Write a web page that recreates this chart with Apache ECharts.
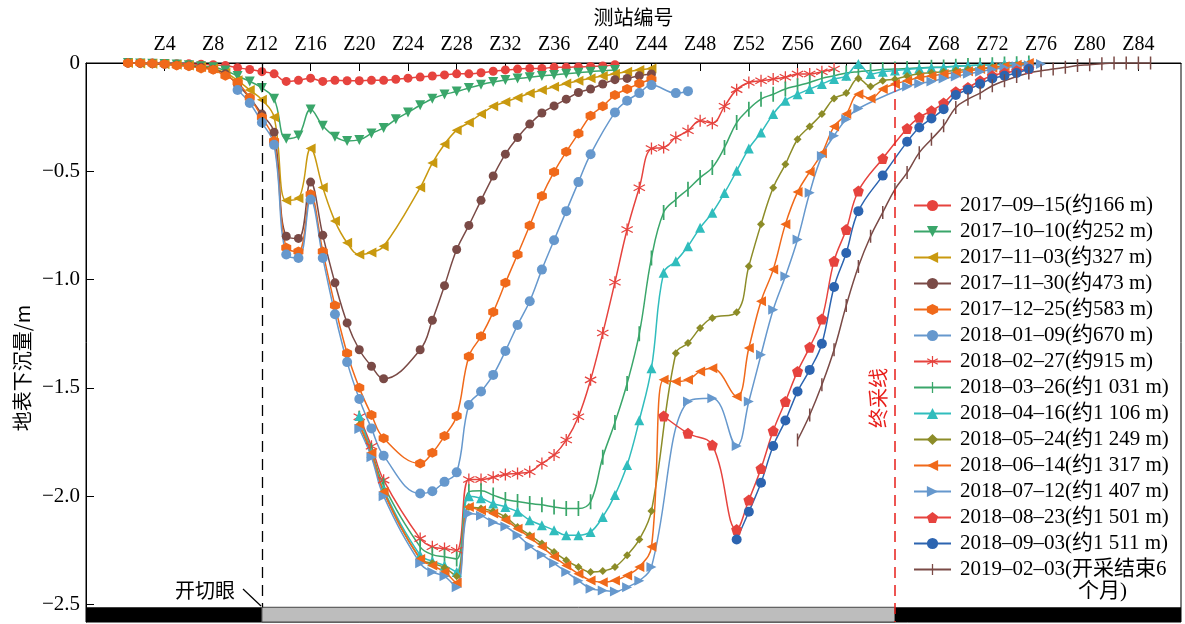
<!DOCTYPE html>
<html>
<head>
<meta charset="utf-8">
<script src="https://cdn.jsdelivr.net/npm/echarts@6/dist/echarts.min.js"></script>
<style>
html, body { margin: 0; padding: 0; background: #fff; }
#chart { width: 1185px; height: 624px; }
</style>
</head>
<body>
<div id="chart"></div>
<script>
// x 值 = 测站序号 (Z1 -> 1), y 值 = 地表下沉量 (m); null = 该测站无数据
var xTicks = [4, 8, 12, 16, 20, 24, 28, 32, 36, 40, 44, 48, 52, 56, 60, 64, 68, 72, 76, 80, 84];
var yTicks = [0, -0.5, -1, -1.5, -2, -2.5];

var start170915 = 1;
var v170915 = [0, 0, 0, -0.002, -0.003, -0.004, -0.006, -0.008, -0.012, -0.022, -0.03, -0.04, -0.05, -0.085, -0.08, -0.07, -0.085, -0.08, -0.082, -0.082,
  -0.08, -0.08, -0.075, -0.07, -0.065, -0.06, -0.055, -0.05, -0.05, -0.045, -0.038, -0.032, -0.028, -0.025, -0.025, -0.02, -0.02, -0.018, -0.016, -0.014, -0.008];

var start171010 = 1;
var v171010 = [0, -0.002, -0.003, -0.005, -0.007, -0.01, -0.015, -0.02, -0.035, -0.06, -0.085, -0.115, -0.165, -0.35, -0.335, -0.215, -0.29, -0.34, -0.36, -0.355,
  -0.325, -0.3, -0.26, -0.228, -0.195, -0.165, -0.145, -0.132, -0.115, -0.1, -0.088, -0.078, -0.072, -0.066, -0.06, -0.055, -0.05, -0.045, -0.04, -0.036, -0.032];

var start171103 = 1;
var v171103 = [0, -0.002, -0.004, -0.006, -0.008, -0.012, -0.018, -0.025, -0.045, -0.08, -0.125, -0.17, -0.25, -0.635, -0.625, -0.395, -0.575, -0.73, -0.83, -0.884,
  -0.875, -0.846, null, null, -0.575, -0.462, -0.375, -0.31, -0.275, -0.235, -0.2, -0.18, -0.16, -0.14, -0.125, -0.11, -0.095, -0.082, -0.07, -0.06,
  -0.05, -0.04, -0.032, -0.025];

var start171130 = 1;
var v171130 = [0, -0.002, -0.004, -0.006, -0.01, -0.014, -0.02, -0.03, -0.05, -0.1, -0.16, -0.236, -0.32, -0.8, -0.81, -0.55, -0.795, -1.015, -1.2, -1.324,
  -1.4, -1.458, null, null, -1.324, -1.188, -1.028, -0.861, -0.75, -0.634, -0.522, -0.421, -0.344, -0.282, -0.231, -0.198, -0.167, -0.136, -0.12, -0.097,
  -0.077, -0.071, -0.059, -0.051];

var start171225 = 1;
var v171225 = [0, 0, -0.002, -0.005, -0.012, -0.015, -0.025, -0.031, -0.059, -0.09, -0.16, -0.25, -0.36, -0.853, -0.87, -0.606, -0.87, -1.12, -1.34, -1.5,
  -1.625, -1.733, null, null, -1.849, -1.8, -1.722, -1.63, -1.355, -1.262, -1.15, -1.015, -0.884, -0.75, -0.614, -0.503, -0.41, -0.326, -0.244, -0.2,
  -0.148, -0.12, -0.095, -0.075];

var start180109 = 10;
var v180109 = [-0.125, -0.185, -0.275, -0.378, -0.884, -0.9, -0.63, -0.9, -1.16, -1.381, -1.551, -1.687, -1.813, null, null, -1.988, -1.977, -1.934, -1.89, -1.579,
  -1.517, -1.44, -1.33, -1.21, -1.1, -0.954, -0.818, -0.684, -0.55, -0.421, null, -0.228, -0.174, -0.139, -0.102, null, -0.139, -0.13];

var start180227 = 20;
var v180227 = [-1.633, -1.77, -1.926, null, null, -2.196, -2.234, -2.242, -2.25, -1.923, -1.923, -1.913, -1.9, -1.895, -1.887, -1.849, -1.81, -1.741, -1.633, -1.463,
  -1.247, -1.012, -0.769, -0.576, -0.395, -0.39, -0.344, -0.313, -0.267, -0.278, -0.2, -0.123, -0.09, -0.082, -0.074, -0.066, -0.051, -0.051, -0.04, -0.028];

var start180326 = 20;
var v180326 = [-1.64, -1.79, -1.95, null, null, -2.234, -2.27, -2.28, -2.29, -1.98, -1.975, -1.995, -2.015, -2.025, -2.034, -2.04, -2.05, -2.057, -2.057, -2.026,
  -1.82, -1.66, -1.48, -1.25, -0.9, -0.69, -0.63, -0.583, -0.529, -0.483, -0.39, -0.275, -0.213, -0.167, -0.144, -0.12, -0.105, -0.09, -0.071, -0.059,
  -0.046, -0.04, -0.035, -0.03, -0.028, -0.025, -0.022, -0.02, -0.018, -0.015, -0.012, -0.01, -0.008, -0.005, -0.003, 0];

var start180416 = 20;
var v180416 = [-1.63, -1.8, -1.97, null, null, -2.273, -2.3, -2.32, -2.35, -2.0, -2.01, -2.034, -2.05, -2.072, -2.111, -2.134, -2.157, -2.18, -2.18, -2.165,
  -2.096, -1.995, -1.856, -1.65, -1.409, -0.969, -0.915, -0.846, -0.761, -0.691, -0.6, -0.498, -0.395, -0.321, -0.236, -0.174, -0.144, -0.12, -0.097, -0.074,
  -0.059, -0.005, -0.051, -0.04, -0.035, -0.03, -0.025, -0.022, -0.02, -0.015, -0.012, -0.01, -0.008, -0.005, -0.003, 0];

var start180524 = 20;
var v180524 = [-1.67, -1.81, -1.98, null, null, -2.29, -2.31, -2.33, -2.37, -2.05, -2.057, -2.07, -2.096, -2.142, -2.18, -2.219, -2.258, -2.296, -2.327, -2.35,
  -2.346, -2.327, -2.273, -2.2, -2.068, null, -1.34, -1.293, -1.224, -1.177, null, -1.151, -0.938, -0.745, -0.576, -0.468, -0.352, -0.293, -0.236, -0.164,
  -0.139, -0.071, -0.108, -0.082, -0.075, -0.06, -0.05, -0.045, -0.04, -0.035, -0.03, -0.025, -0.02, -0.015, -0.01, -0.005];

var start180614 = 20;
var v180614 = [-1.67, -1.8, -1.98, null, null, -2.29, -2.32, -2.35, -2.4, -2.05, -2.065, -2.08, -2.11, -2.15, -2.19, -2.234, -2.28, -2.32, -2.358, -2.389,
  -2.397, -2.389, -2.366, -2.327, -2.234, -1.463, -1.471, -1.463, -1.424, -1.409, null, -1.54, -1.316, -1.1, -0.954, -0.745, -0.596, -0.503, -0.417, -0.293,
  -0.236, -0.144, -0.164, -0.12, -0.097, -0.082, -0.067, -0.06, -0.051, -0.045, -0.038, -0.028, -0.022, -0.015, -0.008, 0];

var start180712 = 20;
var v180712 = [-1.69, -1.82, -2.0, null, null, -2.31, -2.35, -2.37, -2.42, -2.08, -2.09, -2.12, -2.14, -2.18, -2.23, -2.27, -2.31, -2.35, -2.39, -2.427,
  -2.435, -2.44, -2.42, -2.39, -2.327, null, null, -1.563, null, -1.548, null, -1.768, -1.563, -1.347, -1.139, -0.985, -0.815, -0.599, -0.429, -0.336,
  -0.26, -0.21, null, null, null, -0.108, -0.095, -0.085, -0.072, -0.062, -0.05, -0.04, -0.03, -0.022, -0.015, -0.01, -0.005];

var start180823 = 45;
var v180823 = [-1.63, null, -1.71, null, -1.764, null, -2.154, -2.018, -1.872, -1.698, -1.563, -1.424, -1.312, -1.182, -0.915, -0.769, -0.591, null, -0.441, null,
  -0.302, -0.251, -0.221, -0.185, -0.133, -0.113, -0.082, -0.059, -0.046, -0.036, -0.025];

var start180903 = 51;
var v180903 = [-2.2, -2.072, -1.938, -1.768, -1.651, -1.517, -1.417, -1.296, -1.034, -0.877, -0.684, null, -0.52, null, -0.364, -0.298, -0.256, -0.213, -0.148, -0.123,
  -0.097, -0.071, -0.059, -0.046, -0.028];

var start190203 = 56;
var v190203 = [-1.741, -1.625, -1.486, -1.324, -1.12, -0.94, -0.8, -0.69, -0.583, -0.506, -0.414, -0.352, -0.29, -0.205, -0.167, -0.139, -0.105, -0.082, -0.062, -0.046,
  -0.036, -0.028, -0.02, -0.012, -0.008, -0.003, 0, 0, 0, 0];

// 标志形状
var HEX = 'path://M0,-10L8.66,-5L8.66,5L0,10L-8.66,5L-8.66,-5Z';
var PENT = 'path://M0,-10L9.51,-3.09L5.88,8.09L-5.88,8.09L-9.51,-3.09Z';
var STAR = 'path://M-1,-10L1,-10L1,10L-1,10ZM8.16,5.87L-9.16,-4.13L-8.16,-5.87L9.16,4.13ZM9.16,-4.13L-8.16,5.87L-9.16,4.13L8.16,-5.87Z';
// 竖线标志, 横向的零面积线段只用来撑开外框
var VBAR = 'path://M-0.8,-7L0.8,-7L0.8,7L-0.8,7ZM-7,0L7,0';

var RED = '#e6433e', GREEN = '#3aa66a', GOLD = '#c9990f', BROWN = '#7a4a46', ORANGE = '#f0691a',
    LBLUE = '#6698cd', TEAL = '#30bdbd', OLIVE = '#8c8c28', DBLUE = '#2c64b0';

var defs = [
  ['2017–09–15(约166 m)', start170915, v170915, RED, 'circle', 9, 0],
  ['2017–10–10(约252 m)', start171010, v171010, GREEN, 'triangle', 10, 180],
  ['2017–11–03(约327 m)', start171103, v171103, GOLD, 'triangle', 10, 90],
  ['2017–11–30(约473 m)', start171130, v171130, BROWN, 'circle', 9, 0],
  ['2017–12–25(约583 m)', start171225, v171225, ORANGE, HEX, 10, 0],
  ['2018–01–09(约670 m)', start180109, v180109, LBLUE, 'circle', 10, 0],
  ['2018–02–27(约915 m)', start180227, v180227, RED, STAR, 12, 0],
  ['2018–03–26(约1 031 m)', start180326, v180326, GREEN, VBAR, 15, 0],
  ['2018–04–16(约1 106 m)', start180416, v180416, TEAL, 'triangle', 10, 0],
  ['2018–05–24(约1 249 m)', start180524, v180524, OLIVE, 'diamond', 8, 0],
  ['2018–06–14(约1 317 m)', start180614, v180614, ORANGE, 'triangle', 10, 90],
  ['2018–07–12(约1 407 m)', start180712, v180712, LBLUE, 'triangle', 10, -90],
  ['2018–08–23(约1 501 m)', start180823, v180823, RED, PENT, 11, 0],
  ['2018–09–03(约1 511 m)', start180903, v180903, DBLUE, 'circle', 10, 0],
  ['2019–02–03(开采结束6个月)', start190203, v190203, BROWN, VBAR, 13, 0]
];

function toPoints(start, vals) {
  return vals.map(function (v, i) { return [start + i, v]; });
}

var XMIN = -2.45, XMAX = 87.5, YMIN = -2.581, BAR_TOP = -2.513;

var series = defs.map(function (d) {
  return {
    name: d[0],
    type: 'line',
    data: toPoints(d[1], d[2]),
    smooth: 0.4,
    connectNulls: true,
    symbol: d[4],
    symbolSize: d[5],
    symbolRotate: d[6],
    showSymbol: true,
    lineStyle: { color: d[3], width: 1.5 },
    itemStyle: { color: d[3], borderWidth: 0 },
    emphasis: { disabled: true },
    z: 3
  };
});

// 底部煤层条、开切眼与终采线
series[0].markArea = {
  silent: true,
  data: [
    [{ xAxis: XMIN, yAxis: BAR_TOP, itemStyle: { color: '#000' } }, { xAxis: 12, yAxis: YMIN }],
    [{ xAxis: 12, yAxis: BAR_TOP, itemStyle: { color: '#bdbdbd', borderColor: '#444', borderWidth: 1 } }, { xAxis: 64, yAxis: YMIN }],
    [{ xAxis: 64, yAxis: BAR_TOP, itemStyle: { color: '#000' } }, { xAxis: XMAX, yAxis: YMIN }]
  ]
};
series[0].markLine = {
  silent: true,
  symbol: 'none',
  label: { show: false },
  data: [
    [{ coord: [12, 0], lineStyle: { color: '#000', type: [11, 7], width: 1.3 } }, { coord: [12, BAR_TOP] }],
    [{ coord: [64, 0], lineStyle: { color: '#e81e1a', type: [11, 7], width: 1.5 } }, { coord: [64, YMIN] }]
  ]
};

var SERIF = '"Liberation Serif", "Times New Roman", "Noto Sans CJK SC", serif';

var chart = echarts.init(document.getElementById('chart'), null, { renderer: 'canvas' });
chart.setOption({
  animation: false,
  backgroundColor: '#fff',
  grid: { left: 86, right: 4, top: 63, bottom: 2, show: true, borderColor: '#000', borderWidth: 1, backgroundColor: 'transparent' },
  xAxis: {
    type: 'value',
    position: 'top',
    min: XMIN,
    max: XMAX,
    name: '测站编号',
    nameLocation: 'middle',
    nameGap: 36,
    nameTextStyle: { fontFamily: '"Noto Sans CJK SC"', fontSize: 20, color: '#000' },
    axisLine: { show: true, onZero: false, lineStyle: { color: '#000', width: 1 } },
    axisTick: { show: true, inside: true, length: 8, customValues: xTicks, lineStyle: { color: '#000' } },
    axisLabel: { customValues: xTicks, formatter: function (v) { return 'Z' + v; }, fontFamily: SERIF, fontSize: 20, color: '#000', margin: 8 },
    splitLine: { show: false }
  },
  yAxis: {
    type: 'value',
    min: YMIN,
    max: 0,
    axisLine: { show: true, onZero: false, lineStyle: { color: '#000', width: 1 } },
    axisTick: { show: true, inside: true, length: 8, customValues: yTicks, lineStyle: { color: '#000' } },
    axisLabel: {
      customValues: yTicks,
      formatter: function (v) { return v === 0 ? '0' : '−' + Math.abs(v).toFixed(1); },
      fontFamily: SERIF, fontSize: 21, color: '#000', margin: 6
    },
    splitLine: { show: false }
  },
  legend: {
    orient: 'vertical',
    left: 913,
    top: 195,
    padding: 0,
    itemWidth: 37,
    itemHeight: 14,
    itemGap: 5,
    data: defs.map(function (d) { return d[0]; }),
    formatter: function (name) { return name.replace('6个月)', '6'); },
    textStyle: { fontFamily: SERIF, fontSize: 21, color: '#000', padding: [0, 0, 0, 4] }
  },
  graphic: [
    { type: 'text', x: 22, y: 368, rotation: Math.PI / 2,
      style: { text: '地表下沉量/m', font: '20px "Noto Sans CJK SC"', fill: '#000', align: 'center', verticalAlign: 'middle' } },
    { type: 'text', left: 175, top: 580, style: { text: '开切眼', font: '20px "Noto Sans CJK SC"', fill: '#000' } },
    { type: 'line', shape: { x1: 243, y1: 589, x2: 261, y2: 606 }, style: { stroke: '#000', lineWidth: 1.2 } },
    { type: 'text', x: 878, y: 398, rotation: Math.PI / 2,
      style: { text: '终采线', font: '20px "Noto Sans CJK SC"', fill: '#e81e1a', align: 'center', verticalAlign: 'middle' } },
    { type: 'text', left: 1078, top: 581, style: { text: '个月)', font: '21px ' + SERIF, fill: '#000' } }
  ],
  series: series
});
</script>
</body>
</html>
